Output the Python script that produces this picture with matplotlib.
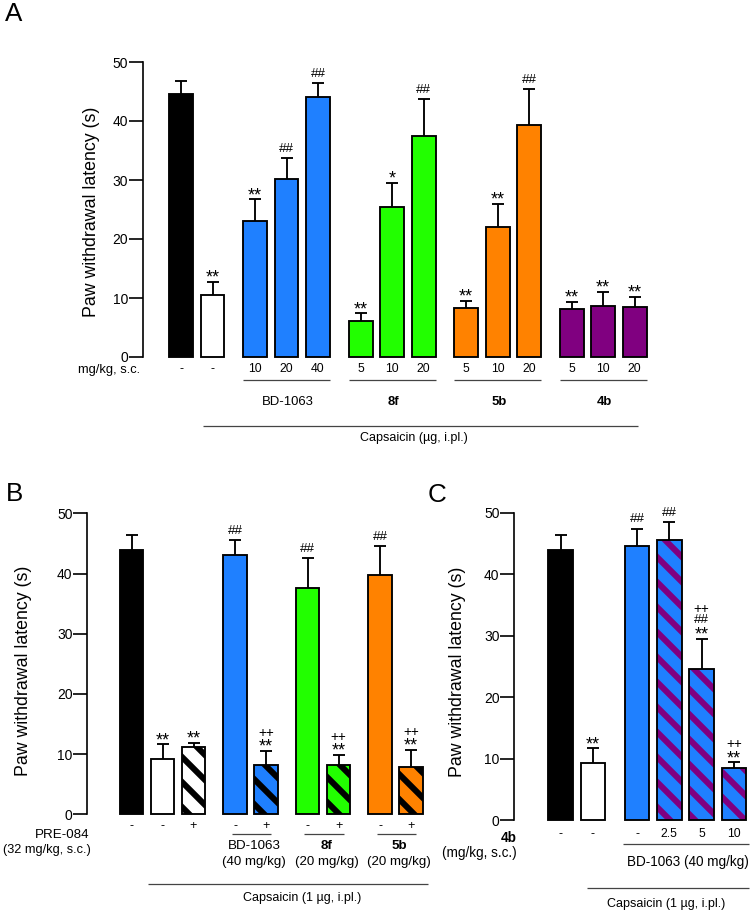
"""
Capsaicin-induced mechanical hypersensitivity: paw withdrawal latency, panels A-C.
Writes: out.png
"""
import numpy as np
import matplotlib.pyplot as plt
import matplotlib.transforms as mtransforms

W, H, DPI = 750, 912, 150
PT = DPI / 72.0  # pixels per point

BLACK = "#000000"
WHITE = "#ffffff"
BLUE = "#1f80ff"
GREEN = "#22ff00"
ORANGE = "#ff8200"
PURPLE = "#800080"
LINE = "#444444"

plt.rcParams.update({
    "font.family": ["Liberation Sans", "DejaVu Sans"],
    "hatch.linewidth": 2.9,
    "axes.linewidth": 0.8,
    "figure.facecolor": WHITE,
    "axes.facecolor": "none",
})

# ---- Panel A: dose-response ----
a_labels = ["-", "-", "10", "20", "40", "5", "10", "20", "5", "10", "20", "5", "10", "20"]
a_group = [0, 0, 1, 1, 1, 2, 2, 2, 3, 3, 3, 4, 4, 4]
a_mean = [44.5, 10.45, 23.1, 30.2, 44.1, 6.15, 25.4, 37.5, 8.3, 22.0, 39.3, 8.1, 8.7, 8.5]
a_sem = [2.2, 2.25, 3.6, 3.5, 2.3, 1.25, 4.1, 6.2, 1.2, 4.0, 6.1, 1.2, 2.3, 1.7]
a_color = [BLACK, WHITE, BLUE, BLUE, BLUE, GREEN, GREEN, GREEN,
           ORANGE, ORANGE, ORANGE, PURPLE, PURPLE, PURPLE]
a_marks = [[], ["**"], ["**"], ["##"], ["##"], ["**"], ["*"], ["##"],
           ["**"], ["**"], ["##"], ["**"], ["**"], ["**"]]
a_names = ["BD-1063", "8f", "5b", "4b"]

# ---- Panel B: PRE-084 reversal ----
b_labels = ["-", "-", "+", "-", "+", "-", "+", "-", "+"]
b_group = [0, 0, 0, 1, 1, 2, 2, 3, 3]
b_mean = [43.9, 9.2, 11.2, 43.1, 8.2, 37.6, 8.2, 39.7, 7.9]
b_sem = [2.5, 2.4, 0.7, 2.5, 2.3, 4.9, 1.65, 4.9, 2.8]
b_color = [BLACK, WHITE, WHITE, BLUE, BLUE, GREEN, GREEN, ORANGE, ORANGE]
b_hatch = [False, False, True, False, True, False, True, False, True]
b_marks = [[], ["**"], ["**"], ["##"], ["**", "++"], ["##"], ["**", "++"],
           ["##"], ["**", "++"]]
b_names = ["BD-1063", "8f", "5b"]
b_doses = ["(40 mg/kg)", "(20 mg/kg)", "(20 mg/kg)"]

# ---- Panel C: 4b + BD-1063 ----
c_labels = ["-", "-", "-", "2.5", "5", "10"]
c_group = [0, 0, 1, 1, 1, 1]
c_mean = [43.9, 9.2, 44.6, 45.5, 24.55, 8.4]
c_sem = [2.5, 2.45, 2.8, 3.0, 4.95, 1.0]
c_color = [BLACK, WHITE, BLUE, BLUE, BLUE, BLUE]
c_hatch = [False, False, False, True, True, True]
c_marks = [[], ["**"], ["##"], ["##"], ["**", "##", "++"], ["**", "++"]]

# symbol metrics (points): font size, lift of glyph above baseline, glyph height
SYM = {
    "*": (8.6, 3.4, 2.8),
    "**": (8.6, 3.4, 2.8),
    "##": (6.4, 0.0, 4.3),
    "++": (6.6, 0.8, 3.3),
}

fig = plt.figure(figsize=(W / DPI, H / DPI), dpi=DPI)


def fy(ypx):
    return 1 - ypx / H


def make_axes(left, right, y0, y50, x0px, unit):
    ax = fig.add_axes([left / W, fy(y0), (right - left) / W, (y0 - y50) / H])
    ax.set_xlim((left - x0px) / unit, (right - x0px) / unit)
    ax.set_ylim(0, 50)
    ax.set_yticks(range(0, 51, 10))
    for s in ["top", "right", "bottom"]:
        ax.spines[s].set_visible(False)
    ax.tick_params(axis="y", length=6.5, width=0.8, pad=0.6, labelsize=6.7)
    return ax


def positions(group, gap):
    return np.arange(len(group)) + gap * np.asarray(group)


def stack_marks(ax, x, top, marks):
    y = 3.0
    for s in marks:
        fs, lift, h = SYM[s]
        ax.annotate(s, (x, top), xytext=(0, y - lift), textcoords="offset points",
                    ha="center", va="baseline", fontsize=fs)
        y += h + 1.6


def draw_bars(ax, pos, mean, sem, colors, hatch, stripe, marks):
    width = 0.76
    ax.errorbar(pos, mean, yerr=sem, fmt="none", ecolor=BLACK, elinewidth=0.9,
                capsize=3.1, capthick=0.9, zorder=1)
    for p, m, c, h in zip(pos, mean, colors, hatch):
        if h:
            ax.bar(p, m, width, color=c, edgecolor=stripe, hatch="\\\\", linewidth=0,
                   zorder=2, clip_on=False)
        else:
            ax.bar(p, m, width, color=c, linewidth=0, zorder=2, clip_on=False)
        ax.bar(p, m, width, fill=False, edgecolor=BLACK, linewidth=0.9, zorder=3,
               clip_on=False)
    for p, m, e, mk in zip(pos, mean, sem, marks):
        stack_marks(ax, p, m + e, mk)


def xlabels(ax, pos, labels, ypx, fs):
    tr = mtransforms.blended_transform_factory(ax.transData, fig.transFigure)
    for p, lab in zip(pos, labels):
        ax.text(p, fy(ypx), lab, transform=tr, ha="center", va="center", fontsize=fs)
    ax.set_xticks([])


def hline(ax, x0, x1, ypx):
    tr = mtransforms.blended_transform_factory(ax.transData, fig.transFigure)
    ax.plot([x0, x1], [fy(ypx), fy(ypx)], color=LINE, lw=0.6, transform=tr,
            clip_on=False, solid_capstyle="butt")


def label(ax, x, ypx, s, **kw):
    tr = mtransforms.blended_transform_factory(ax.transData, fig.transFigure)
    ax.text(x, fy(ypx), s, transform=tr, ha="center", va="center", **kw)


YLABEL = "Paw withdrawal latency (s)"

# ---------------- Panel A ----------------
axA = make_axes(143, 660, 357, 62, 181, 31.5)
pA = positions(a_group, 0.35)
draw_bars(axA, pA, a_mean, a_sem, a_color, [False] * len(pA), BLACK, a_marks)
xlabels(axA, pA, a_labels, 369, 5.9)
for g, name in enumerate(a_names, start=1):
    idx = [i for i, gg in enumerate(a_group) if gg == g]
    hline(axA, pA[idx[0]] - 0.38, pA[idx[-1]] + 0.38, 380)
    label(axA, (pA[idx[0]] + pA[idx[-1]]) / 2 + 0.05, 402, name, fontsize=6.3,
          fontweight="normal" if g == 1 else "bold")
hline(axA, pA[1] - 0.3, pA[-1] + 0.1, 426)
label(axA, (pA[1] - 0.3 + pA[-1] + 0.1) / 2 - 0.2, 438, "Capsaicin (µg, i.pl.)", fontsize=6.0)
fig.text(140 / W, fy(370.5), "mg/kg, s.c.", ha="right", va="center", fontsize=6.2)
fig.text(91.5 / W, fy(212), YLABEL, rotation=90, ha="center", va="center", fontsize=8.5)
fig.text(14 / W, fy(14), "A", ha="center", va="center", fontsize=12.5)

# ---------------- Panel B ----------------
axB = make_axes(87.3, 440, 814.3, 513.3, 131.5, 31.0)
pB = positions(b_group, 0.34)
draw_bars(axB, pB, b_mean, b_sem, b_color, b_hatch, BLACK, b_marks)
xlabels(axB, pB, b_labels, 826, 6.0)
for g, (name, dose) in enumerate(zip(b_names, b_doses), start=1):
    idx = [i for i, gg in enumerate(b_group) if gg == g]
    hline(axB, pB[idx[0]] - 0.1, pB[idx[-1]] + 0.17, 834)
    mid = (pB[idx[0]] + pB[idx[-1]]) / 2 + 0.12
    label(axB, mid, 846, name, fontsize=6.4, fontweight="normal" if g == 1 else "bold")
    label(axB, mid, 862, dose, fontsize=6.4)
hline(axB, pB[1] - 0.47, pB[-1] + 0.54, 884)
label(axB, 5.5, 898, "Capsaicin (1 µg, i.pl.)", fontsize=6.0)
fig.text(89 / W, fy(835), "PRE-084", ha="right", va="center", fontsize=6.4)
fig.text(91 / W, fy(850), "(32 mg/kg, s.c.)", ha="right", va="center", fontsize=6.1)
fig.text(24 / W, fy(671), YLABEL, rotation=90, ha="center", va="center", fontsize=8.5)
fig.text(14.5 / W, fy(494), "B", ha="center", va="center", fontsize=12.5)

# ---------------- Panel C ----------------
axC = make_axes(514.3, 749, 820, 512.7, 560.5, 32.3)
pC = positions(c_group, 0.37)
draw_bars(axC, pC, c_mean, c_sem, c_color, c_hatch, PURPLE, c_marks)
xlabels(axC, pC, c_labels, 834, 5.8)
xr = axC.get_xlim()[1]
hline(axC, pC[2] - 0.44, xr, 844)
label(axC, pC[2] + 1.56, 862, "BD-1063 (40 mg/kg)", fontsize=6.5)
hline(axC, pC[1] - 0.19, xr, 888)
label(axC, pC[1] + 2.26, 904, "Capsaicin (1 µg, i.pl.)", fontsize=6.0)
fig.text(517 / W, fy(838), "4b", ha="right", va="center", fontsize=6.5, fontweight="bold")
fig.text(517 / W, fy(853), "(mg/kg, s.c.)", ha="right", va="center", fontsize=6.5)
fig.text(457.5 / W, fy(672), YLABEL, rotation=90, ha="center", va="center", fontsize=8.5)
fig.text(437 / W, fy(495), "C", ha="center", va="center", fontsize=12.5)

fig.savefig("out.png", dpi=DPI)
